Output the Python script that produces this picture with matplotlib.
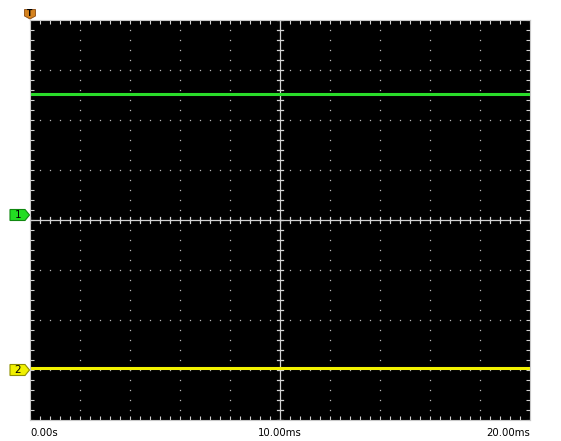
import numpy as np
import matplotlib
matplotlib.use("Agg")
import matplotlib.pyplot as plt
from matplotlib.patches import Polygon
from matplotlib import transforms

# ---- data (time in ms, amplitude in screen divisions) ----
time_ms = [0.0, 20.0]
ch1_level = [2.52, 2.52]
ch2_level = [-2.96, -2.96]
ch1_marker_div = 0.10
ch2_marker_div = -3.00
trigger_time_ms = 0.0
x_tick_labels = ["0.00s", "10.00ms", "20.00ms"]
x_tick_pos = [0.0, 10.0, 20.0]

W, H = 561, 441
fig = plt.figure(figsize=(W / 100, H / 100), dpi=100)
fig.patch.set_facecolor("white")
ax = fig.add_axes([30 / W, (H - 420) / H, 500 / W, 400 / H])
ax.set_facecolor("black")
ax.set_xlim(0, 20)
ax.set_ylim(-4, 4)

grid_c = "#b8b8b8"
for s in ax.spines.values():
    s.set_color("#c8c8c8")
    s.set_linewidth(0.8)

# edge ticks every 0.2 div, pointing inward
ax.set_xticks(np.arange(0, 20.01, 0.4))
ax.set_yticks(np.arange(-4, 4.01, 0.2))
ax.tick_params(direction="in", length=3.0, width=0.8, color="#d0d0d0",
               top=True, right=True, labelbottom=False, labelleft=False)

# dotted grid
gx = [x for x in np.arange(2, 20, 2) if abs(x - 10) > 1e-6]
gy = [y for y in np.arange(-3, 4, 1) if abs(y) > 1e-6]
for x in gx:
    yy = np.arange(-4, 4.001, 0.2)
    ax.plot(np.full_like(yy, x), yy, linestyle="none", marker="s",
            markersize=0.9, color=grid_c, markeredgewidth=0)
for y in gy:
    xx = np.arange(0, 20.001, 0.4)
    ax.plot(xx, np.full_like(xx, y), linestyle="none", marker="s",
            markersize=0.9, color=grid_c, markeredgewidth=0)

# center cross with ticks
cc = "#d2d2d2"
ax.axvline(10, color=cc, lw=0.9)
ax.axhline(0, color=cc, lw=0.9)
for y in np.arange(-4, 4.001, 0.2):
    ax.plot([10 - 0.12, 10 + 0.12], [y, y], color=cc, lw=0.9)
for x in np.arange(0, 20.001, 0.4):
    ax.plot([x, x], [-0.06, 0.06], color=cc, lw=0.9)

# traces
ax.plot(time_ms, ch1_level, color="#2add2a", lw=2.2, solid_capstyle="butt")
ax.plot(time_ms, ch2_level, color="#f2f200", lw=2.2, solid_capstyle="butt")

# channel markers (x in figure pixels, y in data)
bt = transforms.blended_transform_factory(fig.transFigure, ax.transData)

def chan_marker(ydiv, label, face, edge):
    h = 0.11
    x0, x1, xt = 10 / W, 25 / W, 29.5 / W
    poly = Polygon([(x0, ydiv - h), (x1, ydiv - h), (xt, ydiv), (x1, ydiv + h), (x0, ydiv + h)],
                   closed=True, transform=bt, facecolor=face, edgecolor=edge, lw=0.8,
                   clip_on=False)
    fig.add_artist(poly)
    fig.text(18 / W, ydiv, label, transform=bt, ha="center", va="center",
             fontsize=7.5, color="black")

chan_marker(ch1_marker_div, "1", "#22dd22", "#118811")
chan_marker(ch2_marker_div, "2", "#f0f000", "#909000")

# trigger marker
tt = transforms.blended_transform_factory(ax.transData, fig.transFigure)
tx = trigger_time_ms
dx = 5.5 / 25  # 5.5 px in ms
y_top, y_mid, y_bot = (H - 9.5) / H, (H - 16) / H, (H - 19) / H
poly = Polygon([(tx - dx, y_top), (tx + dx, y_top), (tx + dx, y_mid), (tx, y_bot), (tx - dx, y_mid)],
               closed=True, transform=tt, facecolor="#d4821e", edgecolor="#8a4a10", lw=0.6,
               clip_on=False)
fig.add_artist(poly)
fig.text(tx, (H - 13.5) / H, "T", transform=tt, ha="center", va="center",
         fontsize=5.5, fontweight="bold", color="black")

# x labels
aligns = ["left", "center", "right"]
lt = transforms.blended_transform_factory(ax.transData, fig.transFigure)
for lab, pos, al in zip(x_tick_labels, x_tick_pos, aligns):
    fig.text(pos, (H - 433) / H, lab, transform=lt, ha=al, va="center",
             fontsize=7.3, color="black")

fig.savefig("out.png", dpi=100, facecolor="white")
